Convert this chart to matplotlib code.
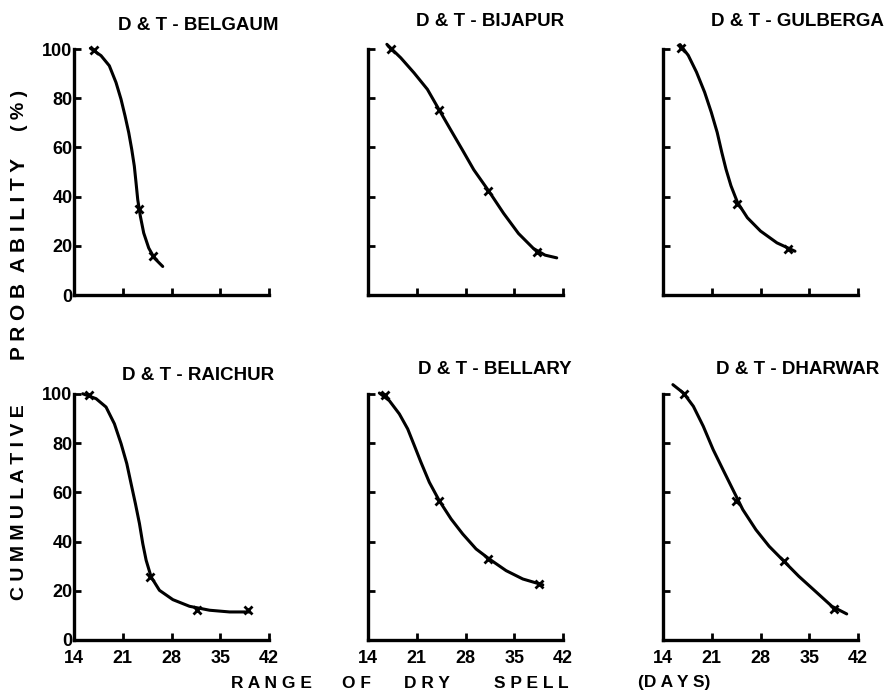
import matplotlib.pyplot as plt

plt.rcParams['font.family'] = ['Liberation Sans', 'DejaVu Sans']
plt.rcParams['font.weight'] = 'bold'

W, H = 888, 696

days_ticks = [14, 21, 28, 35, 42]
prob_ticks = [0, 20, 40, 60, 80, 100]

# ---- Belgaum ----
belgaum_curve_x = [16.35, 17.88, 19.07, 20.03, 20.75, 21.33, 21.86, 22.29, 22.66, 22.91,
                   23.15, 23.53, 24.01, 24.73, 25.54, 26.74]
belgaum_curve_y = [100.3, 97.3, 93.2, 86.4, 79.6, 72.8, 66.0, 59.2, 52.4, 45.6,
                   38.8, 32.0, 25.2, 19.1, 15.0, 11.6]
belgaum_pts_x = [16.9, 23.4, 25.3]
belgaum_pts_y = [99.6, 35, 16]

# ---- Bijapur ----
bijapur_curve_x = [16.71, 18.71, 20.61, 22.53, 24.19, 25.86, 27.53, 29.19, 31.33, 33.47,
                   35.61, 37.76, 39.43, 41.1]
bijapur_curve_y = [101.9, 96.4, 90.3, 83.6, 75.4, 67.2, 59.1, 50.9, 42.3, 33.2,
                   25.0, 18.9, 16.2, 15.1]
bijapur_pts_x = [17.3, 24.2, 31.3, 38.3]
bijapur_pts_y = [100, 75.4, 42.3, 17.5]

# ---- Gulberga ----
gulberga_curve_x = [16.45, 17.63, 18.81, 19.98, 20.93, 21.78, 22.44, 23.05, 23.76, 24.7,
                    26.12, 28.0, 30.36, 32.95]
gulberga_curve_y = [101.8, 97.4, 90.6, 82.4, 74.3, 66.1, 58.0, 51.1, 44.4, 37.6,
                    31.4, 26.0, 21.2, 17.8]
gulberga_pts_x = [16.6, 24.6, 32.0]
gulberga_pts_y = [100.5, 37, 18.5]

# ---- Raichur ----
raichur_curve_x = [15.25, 17.17, 18.6, 19.8, 20.76, 21.58, 22.2, 22.82, 23.4, 23.88,
                   24.36, 25.08, 26.27, 28.2, 30.59, 33.47, 36.35, 39.22]
raichur_curve_y = [100.1, 98.1, 94.7, 87.9, 79.8, 71.7, 63.5, 55.4, 47.3, 39.1,
                   32.4, 25.6, 20.2, 16.4, 13.7, 12.1, 11.4, 11.4]
raichur_pts_x = [16.1, 24.9, 31.6, 39.0]
raichur_pts_y = [99.5, 25.6, 12.3, 12]

# ---- Bellary ----
bellary_curve_x = [15.63, 17.06, 18.5, 19.7, 20.66, 21.61, 22.81, 24.24, 25.93, 27.6,
                   29.52, 31.43, 33.83, 36.23, 39.1]
bellary_curve_y = [100.4, 97.3, 91.9, 85.8, 79.0, 72.2, 64.1, 56.6, 49.2, 43.1,
                   37.0, 32.9, 28.2, 24.8, 22.4]
bellary_pts_x = [16.4, 24.2, 31.3, 38.5]
bellary_pts_y = [99.6, 56.6, 32.9, 22.8]

# ---- Dharwar ----
dharwar_curve_x = [15.42, 16.94, 18.36, 19.78, 21.2, 22.62, 24.04, 25.46, 27.35, 29.24,
                   31.37, 33.5, 35.88, 38.25, 40.38]
dharwar_curve_y = [103.8, 100.4, 95.0, 86.9, 77.4, 69.2, 61.1, 53.0, 44.8, 38.1,
                   32.0, 25.9, 19.8, 13.7, 10.6]
dharwar_pts_x = [17.0, 24.5, 31.4, 38.6]
dharwar_pts_y = [100, 56.5, 32.3, 12.5]

panels = [
    ("D & T - BELGAUM", belgaum_curve_x, belgaum_curve_y, belgaum_pts_x, belgaum_pts_y),
    ("D & T - BIJAPUR", bijapur_curve_x, bijapur_curve_y, bijapur_pts_x, bijapur_pts_y),
    ("D & T - GULBERGA", gulberga_curve_x, gulberga_curve_y, gulberga_pts_x, gulberga_pts_y),
    ("D & T - RAICHUR", raichur_curve_x, raichur_curve_y, raichur_pts_x, raichur_pts_y),
    ("D & T - BELLARY", bellary_curve_x, bellary_curve_y, bellary_pts_x, bellary_pts_y),
    ("D & T - DHARWAR", dharwar_curve_x, dharwar_curve_y, dharwar_pts_x, dharwar_pts_y),
]

# axes boxes in pixels
col_left = [74, 368, 663]
ax_w = 195
row_top = [49, 394]
ax_h = 246
title_pos = [(198, 26), (490, 22), (797, 22), (198, 375), (495, 369), (798, 369)]

fig = plt.figure(figsize=(W / 100, H / 100), dpi=100)

for i, (name, cx, cy, px, py) in enumerate(panels):
    r, c = divmod(i, 3)
    left = col_left[c] / W
    bottom = 1 - (row_top[r] + ax_h) / H
    ax = fig.add_axes([left, bottom, ax_w / W, ax_h / H])

    ax.plot(cx, cy, color='black', lw=2.2, clip_on=False,
            solid_capstyle='round', solid_joinstyle='round')
    ax.plot(px, py, 'x', color='black', ms=6, mew=2.0, clip_on=False)

    ax.set_xlim(14, 42)
    ax.set_ylim(0, 100)
    ax.set_xticks(days_ticks)
    ax.set_yticks(prob_ticks)
    for s in ['top', 'right']:
        ax.spines[s].set_visible(False)
    for s in ['left', 'bottom']:
        ax.spines[s].set_linewidth(2.4)
    ax.tick_params(direction='in', length=5, width=2, labelsize=13, pad=1)
    ax.tick_params(axis='x', pad=7)
    if c != 0:
        ax.set_yticklabels([])
    if r == 0:
        ax.set_xticklabels([])
    for lab in ax.get_xticklabels() + ax.get_yticklabels():
        lab.set_fontweight('bold')

    tx, ty = title_pos[i]
    fig.text(tx / W, 1 - ty / H, name, ha='center', va='center',
             fontsize=13.5, fontweight='bold')

# y label pieces
for txt, yc, fs in [("C U M M U L A T I V E", 502, 14),
                    ("P R O B  A B I L I T Y", 259, 15),
                    ("( % )", 110, 14)]:
    fig.text(20 / W, 1 - yc / H, txt, rotation=90, ha='center', va='center',
             fontsize=fs, fontweight='bold')

# x label words
for txt, xc in [("R A N G E", 271), ("O F", 356), ("D R Y", 427), ("S P E L L", 531), ("(D A Y S)", 674)]:
    fig.text(xc / W, 1 - 683 / H, txt, ha='center', va='center',
             fontsize=12.5, fontweight='bold')

fig.savefig('out.png', dpi=100)
